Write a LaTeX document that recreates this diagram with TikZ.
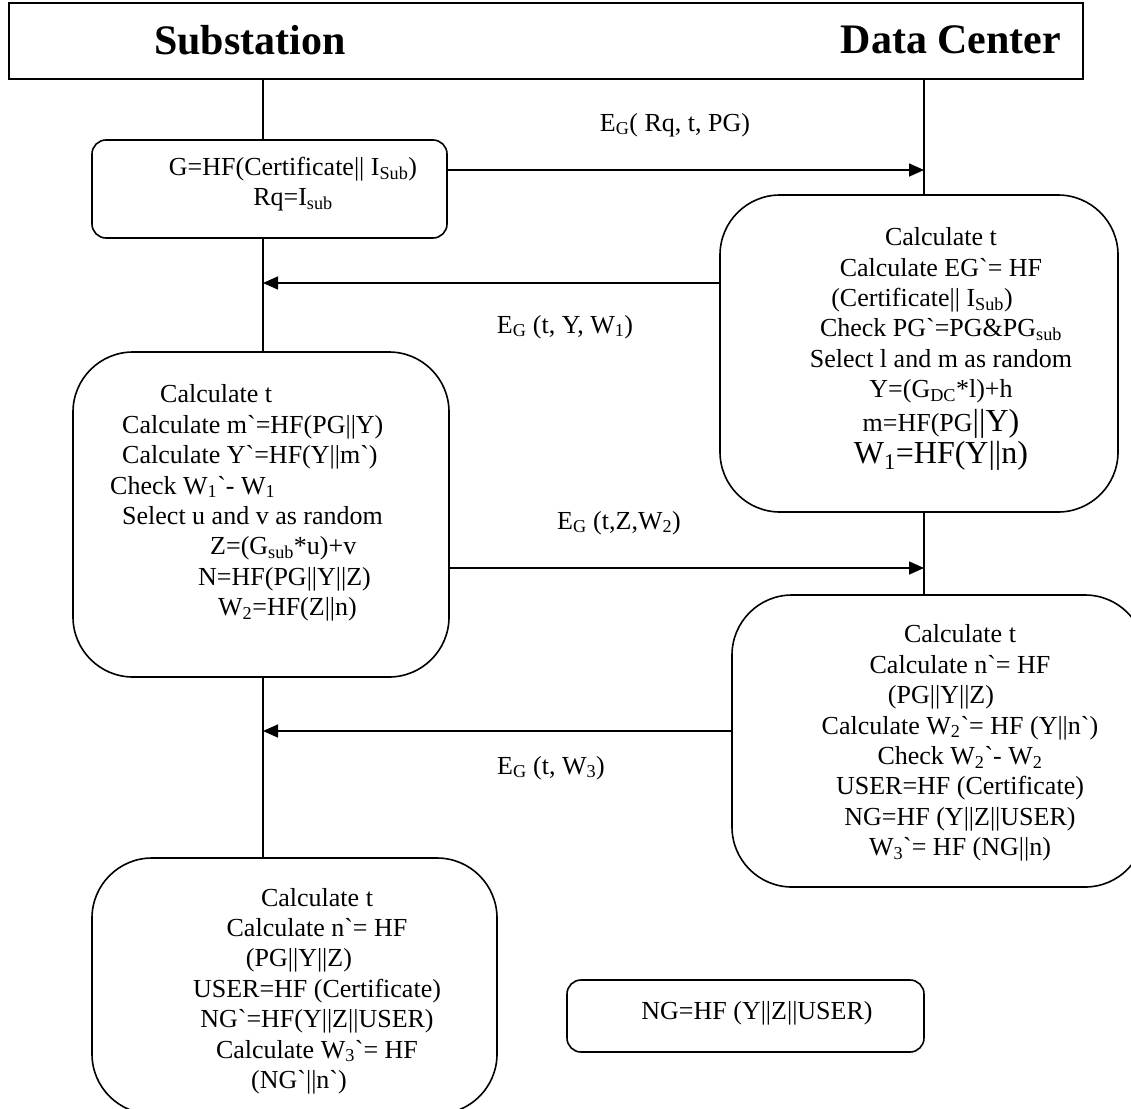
\documentclass[tikz,border=0pt]{standalone}
\usepackage{fontspec}
\setmainfont{Liberation Serif}
\usepackage{tikz}
\usetikzlibrary{arrows.meta, positioning, calc}

\newcommand{\gr}{\textasciigrave}

\begin{document}
\begin{tikzpicture}[
    x=1pt, y=-1pt,
    >={Triangle[length=15pt, width=13pt]},
    every node/.style={inner sep=0pt},
    lane/.style={line width=1.6pt},
    msg/.style={->, line width=1.6pt},
    headnode/.style={draw, line width=1.6pt},
    boxnode/.style={draw, line width=1.6pt, rounded corners=60pt},
    smallbox/.style={draw, line width=1.6pt, rounded corners=14pt},
    titlenode/.style={font=\fontsize{42}{48}\selectfont\bfseries},
    calcnode/.style={align=center, font=\fontsize{26}{30.4}\selectfont},
    msgnode/.style={font=\fontsize{26}{30}\selectfont}
  ]

  \useasboundingbox (0,0) rectangle (1131,1108);
  \clip (0,0) rectangle (1131,1108);

  % Header
  \node[headnode, minimum width=1074pt, minimum height=76pt] (head) at (546,41) {};
  \node[titlenode] (subtitle) at (250,40) {Substation};
  \node[titlenode] (dctitle) at (951,40) {Data Center};

  \coordinate (subline) at (263,0);
  \coordinate (dcline) at (924,0);

  % Substation side
  \node[smallbox, minimum width=355pt, minimum height=98pt] (sub1) at (269.5,189) {};
  \node[calcnode] (sub1txt) at (293,184) {G=HF(Certificate|| I\textsubscript{Sub})\\ Rq=I\textsubscript{sub}};

  \node[boxnode, minimum width=376pt, minimum height=325pt] (sub2) at (261,514.5) {};
  \node[calcnode, align=left, anchor=west] (sub2txt) at (110,503) {\hspace*{50pt}Calculate t\\
    \hspace*{12pt}Calculate m\gr=HF(PG||Y)\\
    \hspace*{12pt}Calculate Y\gr=HF(Y||m\gr)\\
    Check W\textsubscript{1}\gr- W\textsubscript{1}\\
    \hspace*{12pt}Select u and v as random\\
    \hspace*{100pt}Z=(G\textsubscript{sub}*u)+v\\
    \hspace*{88pt}N=HF(PG||Y||Z)\\
    \hspace*{108pt}W\textsubscript{2}=HF(Z||n)};

  \node[boxnode, minimum width=405pt, minimum height=256pt] (sub3) at (294.5,986) {};
  \node[calcnode] (sub3txt) at (317,991) {Calculate t\\
    Calculate n\gr= HF\\
    \hspace*{-36pt}(PG||Y||Z)\\
    USER=HF (Certificate)\\
    NG\gr=HF(Y||Z||USER)\\
    Calculate W\textsubscript{3}\gr= HF\\
    \hspace*{-36pt}(NG\gr||n\gr)};

  % Data center side
  \node[boxnode, minimum width=398pt, minimum height=317pt] (dc1) at (919,353.5) {};
  \node[calcnode] (dc1txt) at (941,349) {Calculate t\\
    Calculate EG\gr= HF\\
    \hspace*{-38pt}(Certificate|| I\textsubscript{Sub})\\
    Check PG\gr=PG\&PG\textsubscript{sub}\\
    Select l and m as random\\
    Y=(G\textsubscript{DC}*l)+h\\[3pt]
    m=HF(PG{\fontsize{32}{30.4}\selectfont||Y)}\\[2pt]
    {\fontsize{32}{30.4}\selectfont W\textsubscript{1}=HF(Y||n)}};

  \node[boxnode, minimum width=413pt, minimum height=292pt] (dc2) at (938.5,741) {};
  \node[calcnode] (dc2txt) at (960,743) {Calculate t\\
    Calculate n\gr= HF\\
    \hspace*{-38pt}(PG||Y||Z)\\
    Calculate W\textsubscript{2}\gr= HF (Y||n\gr)\\
    Check W\textsubscript{2}\gr- W\textsubscript{2}\\
    USER=HF (Certificate)\\
    NG=HF (Y||Z||USER)\\
    W\textsubscript{3}\gr= HF (NG||n)};

  \node[smallbox, minimum width=357pt, minimum height=72pt] (ngbox) at (745.5,1016) {};
  \node[calcnode] (ngtxt) at (757,1013) {NG=HF (Y||Z||USER)};

  % Lifelines
  \draw[lane] (head.south -| subline) -- (sub1.north -| subline);
  \draw[lane] (sub1.south -| subline) -- (sub2.north -| subline);
  \draw[lane] (sub2.south -| subline) -- (sub3.north -| subline);
  \draw[lane] (head.south -| dcline) -- (dc1.north -| dcline);
  \draw[lane] (dc1.south -| dcline) -- (dc2.north -| dcline);

  % Messages
  \draw[msg] ([yshift=19pt]sub1.east) -- ([yshift=19pt]sub1.east -| dcline);
  \node[msgnode] (eg1) at (675,125) {E\textsubscript{G}( Rq, t, PG)};

  \draw[msg] ([yshift=70.5pt]dc1.west) -- ([yshift=70.5pt]dc1.west -| subline);
  \node[msgnode] (eg2) at (565,327) {E\textsubscript{G} (t, Y, W\textsubscript{1})};

  \draw[msg] ([yshift=-53.5pt]sub2.east) -- ([yshift=-53.5pt]sub2.east -| dcline);
  \node[msgnode] (eg3) at (619,523) {E\textsubscript{G} (t,Z,W\textsubscript{2})};

  \draw[msg] ([yshift=10pt]dc2.west) -- ([yshift=10pt]dc2.west -| subline);
  \node[msgnode] (eg4) at (551,768) {E\textsubscript{G} (t, W\textsubscript{3})};

\end{tikzpicture}
\end{document}
